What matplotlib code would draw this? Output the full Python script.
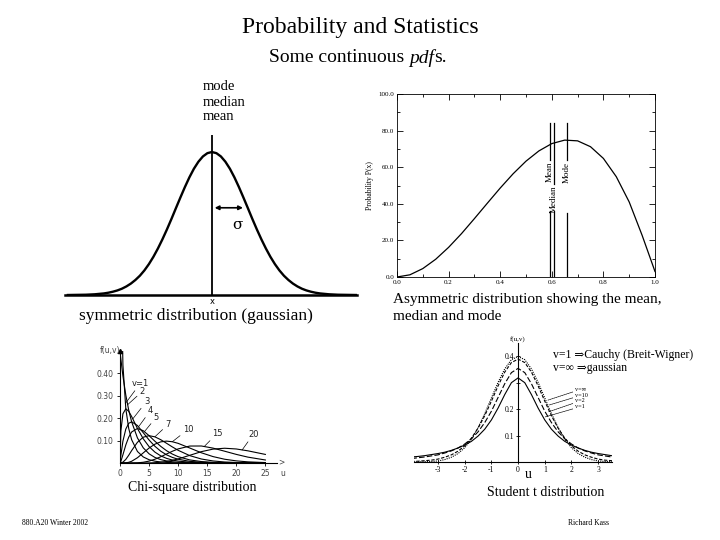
import matplotlib
matplotlib.use("Agg")
import matplotlib.pyplot as plt
import numpy as np

plt.rcParams['font.family'] = ['Liberation Serif', 'DejaVu Serif']

W, H = 720, 540


def fx(px):
    return px / W


def fy(py):
    return 1 - py / H


def mirror(half_x, half_y):
    hx = np.asarray(half_x)
    hy = np.asarray(half_y)
    return np.concatenate([-hx[::-1], hx[1:]]), np.concatenate([hy[::-1], hy[1:]])


# symmetric gaussian (x in units of sigma, height relative to the peak)
gauss_x = [0, 0.125, 0.25, 0.375, 0.5, 0.625, 0.75, 0.875, 1.0, 1.125, 1.25, 1.375, 1.5, 1.625,
           1.75, 1.875, 2.0, 2.125, 2.25, 2.375, 2.5, 2.625, 2.75, 2.875, 3.0, 3.25, 3.5, 3.75, 4.0]
gauss_y = [1.0, 0.992, 0.969, 0.932, 0.883, 0.823, 0.755, 0.682, 0.607, 0.531, 0.458, 0.389,
           0.325, 0.267, 0.216, 0.172, 0.135, 0.105, 0.080, 0.060, 0.044, 0.032, 0.023, 0.016,
           0.011, 0.005, 0.002, 0.001, 0.0]
gauss_center = 0.0
gauss_sigma = 1.0
gauss_sigma_level = 0.61

# asymmetric distribution
asym_x = [0.0, 0.05, 0.1, 0.15, 0.2, 0.25, 0.3, 0.35, 0.4, 0.45, 0.5, 0.55, 0.6, 0.65, 0.7,
          0.75, 0.8, 0.85, 0.9, 0.95, 1.0]
asym_y = [0.0, 1.2, 4.6, 9.7, 16.2, 23.7, 31.9, 40.3, 48.6, 56.4, 63.3, 68.9, 72.9, 74.8, 74.4,
          71.2, 64.8, 54.8, 41.0, 22.8, 3.0]
stat_names = ["Mean", "Median", "Mode"]
stat_x = [0.593, 0.609, 0.659]
stat_top = 84
stat_gap_top = [64, 51, 64]
stat_gap_bottom = [36, 36, 35]

# chi-square distribution
chi_u = [0, 0.15, 0.5, 1, 1.5, 2, 3, 4, 5, 6, 7, 8, 9, 10, 12, 14, 16, 18, 20, 22, 25]
chi_nu1 = [1.2, 0.956, 0.439, 0.242, 0.154, 0.104, 0.0514, 0.027, 0.0146, 0.0081, 0.0045, 0.0026,
           0.0015, 0.0009, 0.0003, 0.0001, 0, 0, 0, 0, 0]
chi_nu2 = [0.5, 0.464, 0.389, 0.303, 0.236, 0.184, 0.112, 0.0677, 0.041, 0.0249, 0.0151, 0.0092,
           0.0056, 0.0034, 0.0012, 0.0005, 0.0002, 0.0001, 0, 0, 0]
chi_nu3 = [0, 0.1433, 0.2197, 0.242, 0.2308, 0.2076, 0.1542, 0.108, 0.0732, 0.0487, 0.0319, 0.0207,
           0.0133, 0.0085, 0.0034, 0.0014, 0.0005, 0.0002, 0.0001, 0, 0]
chi_nu4 = [0, 0.0348, 0.0974, 0.1516, 0.1771, 0.1839, 0.1673, 0.1353, 0.1026, 0.0747, 0.0528, 0.0366,
           0.025, 0.0168, 0.0074, 0.0032, 0.0013, 0.0006, 0.0002, 0.0001, 0]
chi_nu5 = [0, 0.0072, 0.0366, 0.0807, 0.1154, 0.1384, 0.1542, 0.144, 0.122, 0.0973, 0.0744, 0.0551,
           0.0399, 0.0283, 0.0137, 0.0064, 0.0029, 0.0013, 0.0005, 0.0002, 0]
chi_nu7 = [0, 0.0002, 0.0037, 0.0161, 0.0346, 0.0553, 0.0925, 0.1152, 0.122, 0.1168, 0.1041, 0.0881,
           0.0718, 0.0567, 0.0329, 0.0178, 0.0091, 0.0045, 0.0022, 0.001, 0.0003]
chi_nu10 = [0, 0, 0.0001, 0.0008, 0.0031, 0.0077, 0.0235, 0.0451, 0.0668, 0.084, 0.0944, 0.0977,
            0.0949, 0.0877, 0.0669, 0.0456, 0.0286, 0.0168, 0.0095, 0.0051, 0.0019]
chi_nu15 = [0, 0, 0, 0, 0, 0.0001, 0.0008, 0.0033, 0.0085, 0.0168, 0.0278, 0.0401, 0.0523, 0.0629,
            0.0757, 0.0759, 0.0664, 0.0526, 0.0384, 0.0262, 0.0134]
chi_nu20 = [0, 0, 0, 0, 0, 0, 0, 0.0001, 0.0004, 0.0014, 0.0033, 0.0066, 0.0116, 0.0181, 0.0344,
            0.0507, 0.062, 0.0659, 0.0626, 0.0543, 0.0383]
chi_curves = [chi_nu1, chi_nu2, chi_nu3, chi_nu4, chi_nu5, chi_nu7, chi_nu10, chi_nu15, chi_nu20]
chi_names = ["v=1", "2", "3", "4", "5", "7", "10", "15", "20"]
chi_text_at = [(2.0, 0.335), (3.4, 0.30), (4.1, 0.255), (4.8, 0.215), (5.8, 0.185),
               (7.8, 0.152), (10.8, 0.13), (15.8, 0.112), (22.0, 0.107)]
chi_tip_at = [(0.9, 0.265), (1.3, 0.26), (2.2, 0.197), (3.2, 0.162), (4.2, 0.14),
              (6.0, 0.117), (9.0, 0.095), (14.5, 0.074), (21.0, 0.058)]

# student t distribution (positive half, symmetric)
t_u = [0, 0.25, 0.5, 0.75, 1, 1.25, 1.5, 1.75, 2, 2.25, 2.5, 2.75, 3, 3.25, 3.5, 3.75, 4]
t_inf = [0.399, 0.387, 0.352, 0.301, 0.242, 0.183, 0.130, 0.086, 0.054, 0.032, 0.018, 0.009,
         0.004, 0.002, 0.001, 0.0004, 0.0001]
t_10 = [0.389, 0.376, 0.340, 0.288, 0.230, 0.175, 0.128, 0.090, 0.061, 0.041, 0.027, 0.018,
        0.011, 0.007, 0.005, 0.003, 0.002]
t_2 = [0.354, 0.338, 0.296, 0.244, 0.192, 0.149, 0.114, 0.088, 0.068, 0.053, 0.042, 0.034,
       0.027, 0.023, 0.019, 0.016, 0.013]
t_1 = [0.318, 0.300, 0.255, 0.204, 0.159, 0.124, 0.098, 0.078, 0.064, 0.053, 0.044, 0.037,
       0.032, 0.028, 0.024, 0.021, 0.019]
t_names = ["v=\u221e", "v=10", "v=2", "v=1"]
t_styles = [(0, (1, 1)), (0, (3, 1.5)), (0, (5, 2)), '-']
t_text_y = [0.275, 0.253, 0.231, 0.209]
t_tip_at = [(1.12, 0.234), (1.15, 0.215), (1.15, 0.19), (1.0, 0.17)]

fig = plt.figure(figsize=(7.2, 5.4), dpi=100)

# titles
fig.text(0.5, fy(28), "Probability and Statistics", ha='center', va='center', fontsize=17)
fig.canvas.draw()
rend = fig.canvas.get_renderer()
parts = [("Some continuous ", 'normal'), ("pdf", 'italic'), ("s.", 'normal')]
widths = []
for s, st in parts:
    t = fig.text(0, 0, s, fontsize=14, style=st)
    widths.append(t.get_window_extent(rend).width)
    t.remove()
x0 = 358 - sum(widths) / 2
for (s, st), w in zip(parts, widths):
    fig.text(fx(x0), fy(58), s, fontsize=14, style=st, va='center')
    x0 += w

# ---- symmetric gaussian
ax1 = fig.add_axes([fx(65), fy(295), (357 - 65) / W, 160 / H])
gx, gy = mirror(gauss_x, gauss_y)
ax1.plot(gx, gy, color='black', lw=1.7)
ax1.axvline(gauss_center, color='black', lw=1.3)
ax1.set_xlim(-4.08, 4.03)
ax1.set_ylim(0, 1.119)
for s in ['top', 'right', 'left']:
    ax1.spines[s].set_visible(False)
ax1.spines['bottom'].set_linewidth(1.8)
ax1.set_xticks([])
ax1.set_yticks([])
ax1.annotate("", xy=(gauss_center + gauss_sigma * 0.94, gauss_sigma_level),
             xytext=(gauss_center, gauss_sigma_level),
             arrowprops=dict(arrowstyle='<|-|>', color='black', lw=1.2, mutation_scale=6))
ax1.text(0.7, 0.49, "\u03c3", fontsize=11, ha='center', va='center', family='DejaVu Serif')
for i, s in enumerate(["mode", "median", "mean"]):
    fig.text(fx(203), fy(87 + 15 * i), s, fontsize=10.5, va='center')
fig.text(fx(212), fy(301), "x", fontsize=6, ha='center', va='center', family='DejaVu Sans')
fig.text(fx(196), fy(316), "symmetric distribution (gaussian)", fontsize=12.5, ha='center',
         va='center')

# ---- asymmetric distribution
ax2 = fig.add_axes([fx(397), fy(277), 258 / W, 183 / H])
ax2.plot(asym_x, asym_y, color='black', lw=0.9)
for name, sx, gt, gb in zip(stat_names, stat_x, stat_gap_top, stat_gap_bottom):
    ax2.plot([sx, sx], [gt, stat_top], color='black', lw=0.9)
    ax2.plot([sx, sx], [0, gb], color='black', lw=0.9)
for name, sx, gt in zip(stat_names, stat_x, stat_gap_top):
    ax2.text(sx, gt - 1, name, rotation=90, fontsize=6.5, ha='center', va='top')
ax2.set_xlim(0, 1)
ax2.set_ylim(0, 100)
ax2.set_xticks([0, 0.2, 0.4, 0.6, 0.8, 1.0])
ax2.set_xticks(np.arange(0.1, 1.0, 0.2), minor=True)
ax2.set_yticks([0, 20, 40, 60, 80, 100])
ax2.set_yticks(np.arange(10, 100, 20), minor=True)
ax2.set_xticklabels(["0.0", "0.2", "0.4", "0.6", "0.8", "1.0"])
ax2.set_yticklabels(["0.0", "20.0", "40.0", "60.0", "80.0", "100.0"])
ax2.tick_params(which='both', direction='in', top=True, right=True, labelsize=5, width=0.6)
ax2.tick_params(which='major', length=4, pad=2)
ax2.tick_params(which='minor', length=2)
for s in ax2.spines.values():
    s.set_linewidth(0.6)
ax2.set_ylabel("Probability P(x)", fontsize=5.5, labelpad=3)
fig.text(fx(393), fy(300), "Asymmetric distribution showing the mean,", fontsize=11, va='center')
fig.text(fx(393), fy(316), "median and mode", fontsize=11, va='center')

# ---- chi-square
ax3 = fig.add_axes([fx(120), fy(463), 157 / W, 112 / H])
for curve in chi_curves:
    ax3.plot(chi_u, curve, color='black', lw=0.8)
for name, tpos, tip in zip(chi_names, chi_text_at, chi_tip_at):
    ax3.annotate(name, xy=tip, xytext=tpos, fontsize=6, family='DejaVu Sans', color='#222222',
                 ha='left', va='bottom',
                 arrowprops=dict(arrowstyle='-', color='black', lw=0.5, shrinkA=0, shrinkB=0))
ax3.set_xlim(0, 27)
ax3.set_ylim(0, 0.5)
for s in ['top', 'right']:
    ax3.spines[s].set_visible(False)
for s in ['left', 'bottom']:
    ax3.spines[s].set_linewidth(0.8)
ax3.set_xticks([0, 5, 10, 15, 20, 25])
ax3.set_yticks([0.1, 0.2, 0.3, 0.4])
ax3.set_yticklabels(["0.10", "0.20", "0.30", "0.40"])
ax3.tick_params(labelsize=5.5, length=2.5, width=0.6, pad=2, labelcolor='#444444')
for lab in ax3.get_xticklabels() + ax3.get_yticklabels():
    lab.set_family('DejaVu Sans')
ax3.plot([0], [0.5], marker='^', color='black', ms=3, clip_on=False)
fig.text(fx(120), fy(350), "f(u,v)", fontsize=5.5, ha='right', va='center', family='DejaVu Sans',
         color='#444444')
fig.text(fx(281), fy(462), ">", fontsize=5.5, ha='center', va='center', family='DejaVu Sans',
         color='#444444')
fig.text(fx(283), fy(473), "u", fontsize=5.5, ha='center', va='center', family='DejaVu Sans',
         color='#444444')
fig.text(fx(192), fy(487), "Chi-square distribution", fontsize=10, ha='center', va='center')

# ---- student t
ax4 = fig.add_axes([fx(414), fy(462), 197.5 / W, 119 / H])
for ys, ls in zip([t_inf, t_10, t_2, t_1], t_styles):
    ux, uy = mirror(t_u, ys)
    ax4.plot(ux, uy, color='black', lw=0.8, linestyle=ls)
for name, ty, tip in zip(t_names, t_text_y, t_tip_at):
    ax4.annotate(name, xy=tip, xytext=(2.15, ty), fontsize=4.5, va='center', ha='left',
                 arrowprops=dict(arrowstyle='-', color='black', lw=0.5, linestyle=(0, (2, 1)),
                                 shrinkA=0, shrinkB=0))
ax4.set_xlim(-3.9, 3.5)
ax4.set_ylim(0, 0.45)
ax4.spines['left'].set_position(('data', 0))
ax4.spines['bottom'].set_position(('data', 0))
for s in ['top', 'right']:
    ax4.spines[s].set_visible(False)
for s in ['left', 'bottom']:
    ax4.spines[s].set_linewidth(0.8)
ax4.set_xticks([-3, -2, -1, 0, 1, 2, 3])
ax4.set_xticklabels(["-3", "-2", "-1", "0", "1", "2", "3"])
ax4.set_yticks([0.1, 0.2, 0.3, 0.4])
ax4.set_yticklabels(["0.1", "0.2", "", "0.4"])
ax4.tick_params(labelsize=5.5, length=3, width=0.6, pad=1.5, direction='inout')
ax4.text(0, 0.465, "f(u,v)", fontsize=5, ha='center', va='center', clip_on=False)
fig.text(fx(553), fy(355), "v=1 \u21d2Cauchy (Breit-Wigner)", fontsize=8.5, va='center')
fig.text(fx(553), fy(368), "v=\u221e \u21d2gaussian", fontsize=8.5, va='center')
fig.text(fx(528), fy(474), "u", fontsize=10, ha='center', va='center')
fig.text(fx(546), fy(492), "Student t distribution", fontsize=10, ha='center', va='center')

# footer
fig.text(fx(22), fy(523), "880.A20 Winter 2002", fontsize=5.5, va='center')
fig.text(fx(589), fy(523), "Richard Kass", fontsize=5.5, ha='center', va='center')

fig.savefig("out.png", dpi=100)
